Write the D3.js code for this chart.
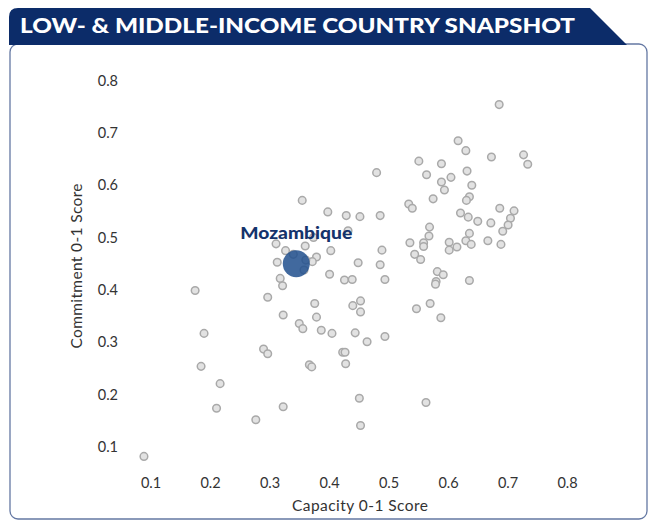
<!DOCTYPE html>
<html>
<head>
<meta charset="utf-8">
<script src="https://cdn.jsdelivr.net/npm/d3@7"></script>
<style>
  body { margin: 0; background: #fff; }
  svg text { font-family: "Lato", "Open Sans", sans-serif; }
</style>
</head>
<body>
<script>
// country scores: capacity (x) and commitment (y)
const capacity = [
  0.686, 0.617, 0.630, 0.673, 0.727, 0.734, 0.551, 0.589, 0.564, 0.632,
  0.605, 0.589, 0.594, 0.640, 0.575, 0.636, 0.631, 0.534, 0.540, 0.621,
  0.634, 0.650, 0.672, 0.687, 0.711, 0.705, 0.701, 0.692, 0.569, 0.568,
  0.536, 0.559, 0.559, 0.544, 0.554, 0.602, 0.602, 0.615, 0.630, 0.636,
  0.639, 0.667, 0.689, 0.582, 0.592, 0.580, 0.579, 0.636, 0.480, 0.355,
  0.398, 0.429, 0.452, 0.486, 0.311, 0.360, 0.374, 0.432, 0.489, 0.327,
  0.403, 0.449, 0.486, 0.313, 0.379, 0.372, 0.361, 0.340, 0.358, 0.401,
  0.318, 0.322, 0.426, 0.439, 0.494, 0.175, 0.297, 0.376, 0.323, 0.379,
  0.350, 0.356, 0.387, 0.405, 0.440, 0.453, 0.453, 0.444, 0.464, 0.494,
  0.423, 0.427, 0.428, 0.367, 0.371, 0.290, 0.297, 0.190, 0.185, 0.217,
  0.211, 0.277, 0.323, 0.451, 0.453, 0.563, 0.089, 0.547, 0.570, 0.588
];
const commitment = [
  0.754, 0.685, 0.666, 0.654, 0.658, 0.640, 0.646, 0.641, 0.620, 0.627,
  0.615, 0.606, 0.591, 0.600, 0.574, 0.578, 0.571, 0.564, 0.556, 0.547,
  0.539, 0.531, 0.528, 0.556, 0.551, 0.537, 0.524, 0.512, 0.520, 0.503,
  0.490, 0.490, 0.483, 0.468, 0.458, 0.491, 0.476, 0.482, 0.494, 0.508,
  0.487, 0.494, 0.487, 0.435, 0.429, 0.416, 0.411, 0.418, 0.624, 0.571,
  0.549, 0.542, 0.540, 0.542, 0.488, 0.484, 0.500, 0.513, 0.476, 0.475,
  0.475, 0.452, 0.448, 0.453, 0.463, 0.454, 0.457, 0.468, 0.438, 0.430,
  0.422, 0.408, 0.419, 0.420, 0.420, 0.399, 0.386, 0.374, 0.352, 0.348,
  0.336, 0.326, 0.323, 0.317, 0.370, 0.379, 0.358, 0.318, 0.301, 0.311,
  0.281, 0.281, 0.259, 0.257, 0.253, 0.287, 0.278, 0.317, 0.254, 0.221,
  0.174, 0.152, 0.177, 0.193, 0.141, 0.185, 0.082, 0.364, 0.374, 0.347
];
const highlight = { name: "Mozambique", capacity: 0.345, commitment: 0.450 };
const tickValues = [0.1, 0.2, 0.3, 0.4, 0.5, 0.6, 0.7, 0.8];

const points = capacity.map((c, i) => ({ x: c, y: commitment[i] }));

const navy = "#0c2c69";

const svg = d3.select("body").append("svg")
    .attr("width", 650)
    .attr("height", 520);

// panel outline
svg.append("rect")
    .attr("x", 10).attr("y", 44)
    .attr("width", 637).attr("height", 475)
    .attr("rx", 8)
    .attr("fill", "#fff")
    .attr("stroke", "#6478a3")
    .attr("stroke-width", 1.3);

// title banner with slanted right edge
svg.append("path")
    .attr("d", "M9,45 L9,17 Q9,8 18,8 L590,8 L627,45 Z")
    .attr("fill", navy);

svg.append("text")
    .attr("x", 20).attr("y", 33)
    .attr("fill", "#fff")
    .style("font-size", "20px")
    .style("font-weight", 900)
    .attr("textLength", 555)
    .attr("lengthAdjust", "spacingAndGlyphs")
    .text("LOW- & MIDDLE-INCOME COUNTRY SNAPSHOT");

const x = d3.scaleLinear().domain([0.1, 0.8]).range([150.5, 567]);
const y = d3.scaleLinear().domain([0.1, 0.8]).range([447, 80.5]);

const xAxis = svg.append("g")
    .attr("transform", "translate(0,478)")
    .call(d3.axisBottom(x).tickValues(tickValues).tickSize(0).tickPadding(0).tickFormat(d3.format(".1f")));
xAxis.select(".domain").remove();
xAxis.selectAll("text")
    .style("font-family", "Lato, sans-serif")
    .style("font-size", "14.5px")
    .attr("fill", "#333");

const yAxis = svg.append("g")
    .attr("transform", "translate(118,0)")
    .call(d3.axisLeft(y).tickValues(tickValues).tickSize(0).tickPadding(0).tickFormat(d3.format(".1f")));
yAxis.select(".domain").remove();
yAxis.selectAll("text")
    .style("font-family", "Lato, sans-serif")
    .style("font-size", "14.5px")
    .attr("fill", "#333");

svg.append("text")
    .attr("x", 360).attr("y", 511)
    .attr("text-anchor", "middle")
    .attr("fill", "#333")
    .style("font-size", "15.5px")
    .attr("textLength", 136)
    .text("Capacity 0-1 Score");

svg.append("text")
    .attr("transform", "translate(82,266) rotate(-90)")
    .attr("text-anchor", "middle")
    .attr("fill", "#333")
    .style("font-size", "15.5px")
    .attr("textLength", 165)
    .text("Commitment 0-1 Score");

// grey dots for every country
svg.append("g").selectAll("circle")
    .data(points)
    .join("circle")
    .attr("cx", d => x(d.x))
    .attr("cy", d => y(d.y))
    .attr("r", 3.8)
    .attr("fill", "#e2e2e2")
    .attr("stroke", "#a9a9a9")
    .attr("stroke-width", 1.5);

// the highlighted country
svg.append("circle")
    .attr("cx", x(highlight.capacity))
    .attr("cy", y(highlight.commitment))
    .attr("r", 13.5)
    .attr("fill", "#22508e")
    .attr("fill-opacity", 0.86);

svg.append("text")
    .attr("x", x(highlight.capacity))
    .attr("y", y(highlight.commitment) - 25)
    .attr("text-anchor", "middle")
    .attr("fill", "#15336b")
    .style("font-size", "16px")
    .style("font-weight", 900)
    .attr("textLength", 112)
    .attr("lengthAdjust", "spacingAndGlyphs")
    .text(highlight.name);
</script>
</body>
</html>
